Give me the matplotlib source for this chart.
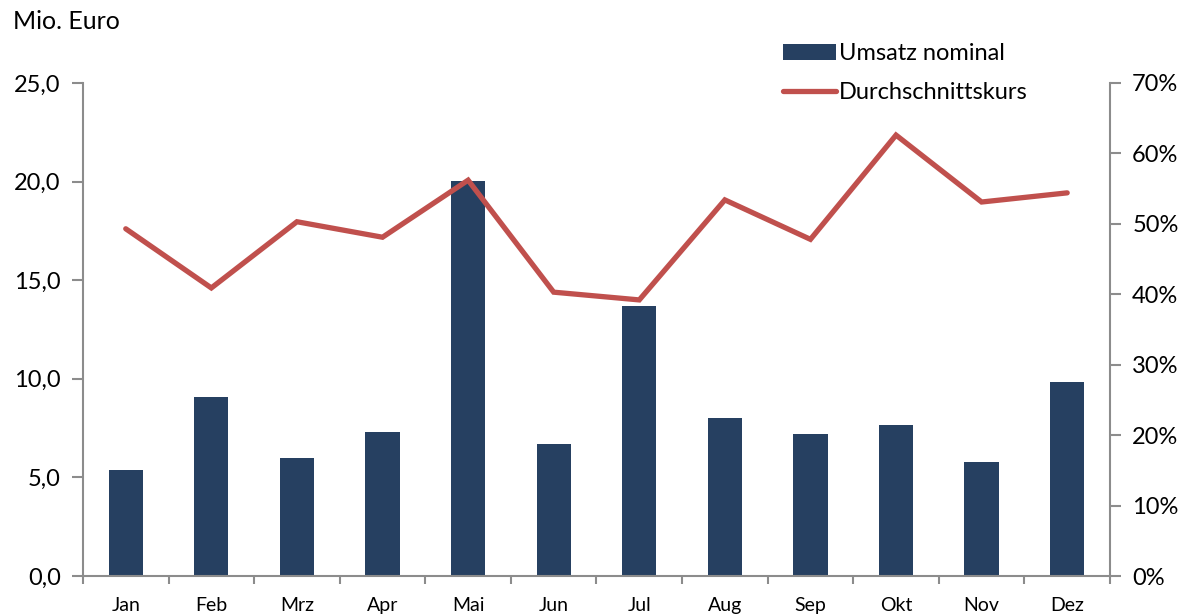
import matplotlib
matplotlib.use("Agg")
import matplotlib.pyplot as plt
from matplotlib.ticker import FuncFormatter, FixedLocator
import numpy as np

months = ["Jan", "Feb", "Mrz", "Apr", "Mai", "Jun", "Jul", "Aug", "Sep", "Okt", "Nov", "Dez"]
umsatz = [5.38, 9.08, 5.98, 7.30, 20.03, 6.69, 13.69, 8.01, 7.20, 7.66, 5.78, 9.84]
kurs = [49.3, 40.9, 50.3, 48.1, 56.2, 40.3, 39.2, 53.4, 47.8, 62.6, 53.1, 54.4]

plt.rcParams['font.family'] = ['Lato', 'DejaVu Sans']

fig = plt.figure(figsize=(11.92, 6.16), dpi=100)
ax = fig.add_axes([0.0696, 0.0649, 0.8616, 0.8004])
ax2 = ax.twinx()

x = np.arange(len(months))
bar_color = "#264061"
line_color = "#C0504D"
axis_color = "#8C8C8C"

b = ax.bar(x, umsatz, width=0.4, color=bar_color, label="Umsatz nominal", zorder=2)
l, = ax2.plot(x, kurs, color=line_color, lw=3.8, solid_capstyle='round',
              solid_joinstyle='miter', label="Durchschnittskurs", zorder=3)

ax.set_xlim(-0.5, len(months) - 0.5)
ax.set_ylim(0, 25)
ax2.set_ylim(0, 70)
ax.set_yticks(np.arange(0, 25.1, 5))
ax2.set_yticks(np.arange(0, 70.1, 10))
ax.yaxis.set_major_formatter(FuncFormatter(lambda v, p: f"{v:.1f}".replace(".", ",")))
ax2.yaxis.set_major_formatter(FuncFormatter(lambda v, p: f"{v:.0f}%"))

ax.set_xticks(x)
ax.set_xticklabels(months, fontsize=14)
ax.xaxis.set_minor_locator(FixedLocator(np.arange(-0.5, len(months), 1)))
ax.tick_params(axis='x', which='major', length=0, pad=15)
ax.tick_params(axis='x', which='minor', length=6, width=1.5, color=axis_color, direction='out')
ax.tick_params(axis='y', length=8, width=1.5, color=axis_color, direction='out', labelsize=17, pad=8)
ax2.tick_params(axis='y', length=8, width=1.5, color=axis_color, direction='out', labelsize=17, pad=8)

for a in (ax, ax2):
    a.spines['top'].set_visible(False)
    for s in ('left', 'right', 'bottom'):
        a.spines[s].set_color(axis_color)
        a.spines[s].set_linewidth(1.5)
ax.spines['right'].set_visible(False)
ax2.spines['left'].set_visible(False)
ax2.spines['bottom'].set_visible(False)

ax2.patch.set_visible(False)

fig.text(0.011, 0.965, "Mio. Euro", fontsize=18, va='center', ha='left')

fig.legend([b, l], ["Umsatz nominal", "Durchschnittskurs"], loc='upper left',
           bbox_to_anchor=(0.649, 0.945), frameon=False, fontsize=17,
           handlelength=2.25, handletextpad=0.1, labelspacing=0.75, borderaxespad=0)

fig.savefig("out.png", dpi=100)
